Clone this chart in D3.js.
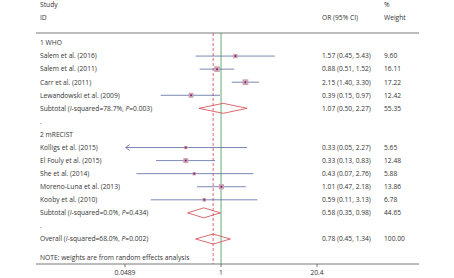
<!DOCTYPE html>
<html>
<head>
<meta charset="utf-8">
<script src="https://cdn.jsdelivr.net/npm/d3@7"></script>
<style>
  body { margin: 0; background: #fff; }
  svg text { font-family: "Open Sans", sans-serif; font-size: 6.7px; fill: #333; }
</style>
</head>
<body>
<div id="chart"></div>
<script>
// rows in display order; type: head, study, sub, blank, overall
const rowLabels = ["1 WHO", "Salem et al. (2016)", "Salem et al. (2011)", "Carr et al. (2011)", "Lewandowski et al. (2009)",
  "Subtotal", ".", "2 mRECIST", "Kolligs et al. (2015)", "El Fouly et al. (2015)", "She et al. (2014)",
  "Moreno-Luna et al. (2013)", "Kooby et al. (2010)", "Subtotal", ".", "Overall"];
const rowTypes = ["head", "study", "study", "study", "study", "sub", "blank", "head", "study", "study", "study",
  "study", "study", "sub", "blank", "overall"];
const rowOR = [null, 1.57, 0.88, 2.15, 0.39, 1.07, null, null, 0.33, 0.33, 0.43, 1.01, 0.59, 0.58, null, 0.78];
const rowLo = [null, 0.45, 0.51, 1.40, 0.15, 0.50, null, null, 0.05, 0.13, 0.07, 0.47, 0.11, 0.35, null, 0.45];
const rowHi = [null, 5.43, 1.52, 3.30, 0.97, 2.27, null, null, 2.27, 0.83, 2.76, 2.18, 3.13, 0.98, null, 1.34];
const rowWeight = [null, "9.60", "16.11", "17.22", "12.42", "55.35", null, null, "5.65", "12.48", "5.88",
  "13.86", "6.78", "44.65", null, "100.00"];
const hetero = {5: ["78.7%", "0.003"], 13: ["0.0%", "0.434"], 15: ["68.0%", "0.002"]};
const tickValues = [0.0489, 1, 20.4];
const tickLabels = ["0.0489", "1", "20.4"];

const width = 454, height = 278;
const svg = d3.select("#chart").append("svg")
    .attr("width", width)
    .attr("height", height);

const x = d3.scaleLog().domain([0.0489, 20.4]).range([125, 317]);
const y = d3.scaleLinear().domain([0, 15]).range([43, 239]);

const lineCol = "#5a6aa0", diaCol = "#d0454a", grey = "#555";
const textX = 40, orX = 322, wX = 384;

// header
svg.append("text").attr("x", textX).attr("y", 5).attr("dy", "0.35em").text("Study");
svg.append("text").attr("x", textX).attr("y", 18).attr("dy", "0.35em").text("ID");
svg.append("text").attr("x", orX).attr("y", 18).attr("dy", "0.35em").text("OR (95% CI)");
svg.append("text").attr("x", wX).attr("y", 5).attr("dy", "0.35em").text("%");
svg.append("text").attr("x", wX).attr("y", 18).attr("dy", "0.35em").text("Weight");

svg.append("line").attr("x1", 36).attr("x2", 419).attr("y1", 33).attr("y2", 33)
    .attr("stroke", grey).attr("stroke-width", 0.8);

// reference lines
svg.append("line").attr("x1", x(1)).attr("x2", x(1)).attr("y1", 33).attr("y2", 264)
    .attr("stroke", "#3a9a4a").attr("stroke-width", 0.8);
svg.append("line").attr("x1", x(rowOR[15])).attr("x2", x(rowOR[15])).attr("y1", 33).attr("y2", 264)
    .attr("stroke", diaCol).attr("stroke-width", 0.8).attr("stroke-dasharray", "3,2");

// labels
rowLabels.forEach((lab, i) => {
  const t = svg.append("text").attr("x", textX).attr("y", y(i)).attr("dy", "0.35em");
  if (hetero[i]) {
    t.append("tspan").text(lab + " (");
    t.append("tspan").attr("font-style", "italic").text("I");
    t.append("tspan").text("-squared=" + hetero[i][0] + ", ");
    t.append("tspan").attr("font-style", "italic").text("P");
    t.append("tspan").text("=" + hetero[i][1] + ")");
  } else {
    t.text(lab);
  }
  if (rowOR[i] != null) {
    svg.append("text").attr("x", orX).attr("y", y(i)).attr("dy", "0.35em")
        .text(rowOR[i].toFixed(2) + " (" + rowLo[i].toFixed(2) + ", " + rowHi[i].toFixed(2) + ")");
    svg.append("text").attr("x", wX).attr("y", y(i)).attr("dy", "0.35em").text(rowWeight[i]);
  }
});

// studies
rowTypes.forEach((tp, i) => {
  if (tp === "study") {
    const lo = Math.max(rowLo[i], 0.0489);
    svg.append("line").attr("x1", x(lo)).attr("x2", x(rowHi[i])).attr("y1", y(i)).attr("y2", y(i))
        .attr("stroke", lineCol).attr("stroke-width", 0.8);
    if (rowLo[i] <= 0.05) {
      svg.append("path")
          .attr("d", `M${x(lo) + 4},${y(i) - 3}L${x(lo)},${y(i)}L${x(lo) + 4},${y(i) + 3}`)
          .attr("fill", "none").attr("stroke", lineCol).attr("stroke-width", 0.8);
    }
    const s = Math.sqrt(+rowWeight[i]) * 1.4;
    svg.append("rect").attr("x", x(rowOR[i]) - s / 2).attr("y", y(i) - s / 2)
        .attr("width", s).attr("height", s).attr("fill", "#c9a3b8");
    svg.append("circle").attr("cx", x(rowOR[i])).attr("cy", y(i)).attr("r", 1)
        .attr("fill", "#8b2252");
  } else if (tp === "sub" || tp === "overall") {
    const cy = y(i), h = 5;
    svg.append("path")
        .attr("d", `M${x(rowLo[i])},${cy}L${x(rowOR[i])},${cy - h}L${x(rowHi[i])},${cy}L${x(rowOR[i])},${cy + h}Z`)
        .attr("fill", "none").attr("stroke", diaCol).attr("stroke-width", 0.8);
  }
});

svg.append("text").attr("x", textX).attr("y", 258).attr("dy", "0.35em")
    .text("NOTE: weights are from random effects analysis");

// axis
svg.append("line").attr("x1", 36).attr("x2", 419).attr("y1", 264).attr("y2", 264)
    .attr("stroke", grey).attr("stroke-width", 0.8);
tickValues.forEach((v, i) => {
  svg.append("line").attr("x1", x(v)).attr("x2", x(v)).attr("y1", 264).attr("y2", 267)
      .attr("stroke", grey).attr("stroke-width", 0.8);
  svg.append("text").attr("x", x(v)).attr("y", 273).attr("dy", "0.35em")
      .attr("text-anchor", "middle").text(tickLabels[i]);
});
</script>
</body>
</html>
